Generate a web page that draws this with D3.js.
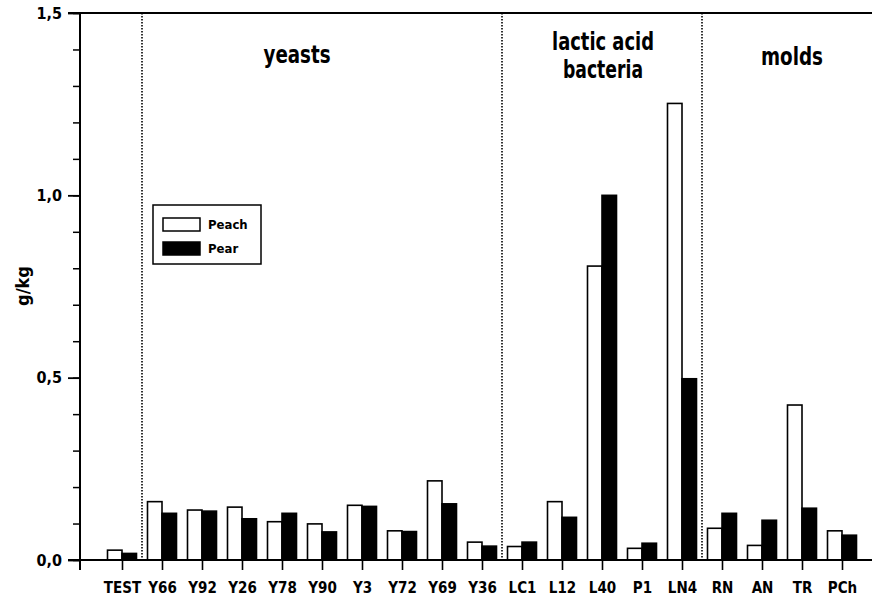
<!DOCTYPE html>
<html>
<head>
<meta charset="utf-8">
<script src="https://cdn.jsdelivr.net/npm/d3@7"></script>
<style>
  body { margin: 0; background: #fff; }
  svg text { font-family: "DejaVu Sans Condensed", "Liberation Sans Narrow", "Arial Narrow", sans-serif; font-stretch: condensed; font-weight: bold; fill: #000; }
</style>
</head>
<body>
<div id="chart"></div>
<script>
// Chart size
const width = 872;
const height = 601;

// Data
const categories = ["TEST", "Y66", "Y92", "Y26", "Y78", "Y90", "Y3", "Y72", "Y69", "Y36",
                    "LC1", "L12", "L40", "P1", "LN4", "RN", "AN", "TR", "PCh"];
const peach = [0.027, 0.160, 0.137, 0.145, 0.105, 0.099, 0.150, 0.080, 0.217, 0.049,
               0.037, 0.160, 0.806, 0.032, 1.252, 0.087, 0.040, 0.425, 0.080];
const pear  = [0.018, 0.128, 0.134, 0.113, 0.128, 0.077, 0.147, 0.078, 0.154, 0.038,
               0.049, 0.117, 1.000, 0.046, 0.497, 0.128, 0.109, 0.142, 0.068];
const seriesNames = ["Peach", "Pear"];
const yTicks = [0, 0.5, 1.0, 1.5];
const yTickLabels = ["0,0", "0,5", "1,0", "1,5"];
// group dividers come after these categories
const dividerAfter = ["TEST", "Y36", "LN4"];
const groupLabels = [
    { lines: ["yeasts"], cx: 297, ys: [63], lens: [67] },
    { lines: ["lactic acid", "bacteria"], cx: 603, ys: [50, 78], lens: [102, 80] },
    { lines: ["molds"], cx: 792, ys: [65], lens: [62] }
];

const svg = d3.select("#chart")
    .append("svg")
    .attr("width", width)
    .attr("height", height);

const axisX = 80;
const topY = 13;
const baseY = 560;

const y = d3.scaleLinear().domain([0, 1.5]).range([baseY, topY]);

const x = d3.scalePoint()
    .domain(categories)
    .range([102, 862])
    .padding(0.5);

const barW = 14.5;
const x1 = d3.scaleBand().domain(seriesNames).range([-barW, barW]);

const rows = categories.map((c, i) => ({ cat: c, Peach: peach[i], Pear: pear[i] }));

// dotted group dividers
const step = x.step();
svg.append("g")
    .selectAll("line")
    .data(dividerAfter)
    .enter()
    .append("line")
    .attr("x1", d => x(d) + step / 2)
    .attr("x2", d => x(d) + step / 2)
    .attr("y1", topY)
    .attr("y2", baseY)
    .attr("stroke", "#000")
    .attr("stroke-width", 1.6)
    .attr("stroke-dasharray", "1.5,1.5");

// bars
const groups = svg.append("g")
    .selectAll("g")
    .data(rows)
    .enter()
    .append("g")
    .attr("transform", d => `translate(${x(d.cat)},0)`);

groups.selectAll("rect")
    .data(d => seriesNames.map(s => ({ s: s, v: d[s] })))
    .enter()
    .append("rect")
    .attr("x", d => x1(d.s))
    .attr("width", x1.bandwidth())
    .attr("y", d => y(d.v))
    .attr("height", d => baseY - y(d.v))
    .attr("fill", d => d.s === "Peach" ? "#fff" : "#000")
    .attr("stroke", "#000")
    .attr("stroke-width", 1.6);

// y axis with minor ticks
const yAxis = d3.axisLeft(y)
    .tickValues(d3.range(0, 1.51, 0.1))
    .tickSize(7)
    .tickFormat("");
svg.append("g")
    .attr("transform", `translate(${axisX},0)`)
    .call(yAxis)
    .call(g => g.select(".domain").remove())
    .call(g => g.selectAll("line").attr("stroke-width", 1.5));

const yMajor = d3.axisLeft(y)
    .tickValues(yTicks)
    .tickSize(12)
    .tickPadding(6)
    .tickFormat((d, i) => yTickLabels[i]);
svg.append("g")
    .attr("transform", `translate(${axisX},0)`)
    .call(yMajor)
    .call(g => g.select(".domain").remove())
    .call(g => g.selectAll("line").attr("stroke-width", 1.8))
    .call(g => g.selectAll("text").attr("font-size", 16).attr("font-family", null));

// x axis
const xAxis = d3.axisBottom(x).tickSize(10).tickPadding(12);
svg.append("g")
    .attr("transform", `translate(0,${baseY})`)
    .call(xAxis)
    .call(g => g.select(".domain").remove())
    .call(g => g.selectAll("line").attr("stroke-width", 1.6))
    .call(g => g.selectAll("text").attr("font-size", 15).attr("font-family", null));

// axis lines
svg.append("line")
    .attr("x1", axisX).attr("x2", axisX)
    .attr("y1", topY).attr("y2", baseY + 10)
    .attr("stroke", "#000").attr("stroke-width", 2);
svg.append("line")
    .attr("x1", axisX - 12).attr("x2", width)
    .attr("y1", baseY).attr("y2", baseY)
    .attr("stroke", "#000").attr("stroke-width", 2);
svg.append("line")
    .attr("x1", axisX - 12).attr("x2", width)
    .attr("y1", topY).attr("y2", topY)
    .attr("stroke", "#000").attr("stroke-width", 2);

// y label
svg.append("text")
    .attr("transform", "translate(29,286) rotate(-90)")
    .attr("text-anchor", "middle")
    .attr("font-size", 18)
    .text("g/kg");

// group labels
groupLabels.forEach(gl => {
    gl.lines.forEach((l, i) => {
        svg.append("text")
            .attr("x", gl.cx)
            .attr("y", gl.ys[i])
            .attr("text-anchor", "middle")
            .attr("font-size", 24)
            .attr("textLength", gl.lens[i])
            .attr("lengthAdjust", "spacingAndGlyphs")
            .text(l);
    });
});

// legend
const legend = svg.append("g");
legend.append("rect")
    .attr("x", 153).attr("y", 205)
    .attr("width", 108).attr("height", 59)
    .attr("fill", "#fff")
    .attr("stroke", "#000")
    .attr("stroke-width", 1.5);
seriesNames.forEach((s, i) => {
    legend.append("rect")
        .attr("x", 163).attr("y", 218 + i * 24)
        .attr("width", 37).attr("height", 13)
        .attr("fill", s === "Peach" ? "#fff" : "#000")
        .attr("stroke", "#000")
        .attr("stroke-width", 1.5);
    legend.append("text")
        .attr("x", 208).attr("y", 229 + i * 24)
        .attr("font-size", 13)
        .text(s);
});
</script>
</body>
</html>
